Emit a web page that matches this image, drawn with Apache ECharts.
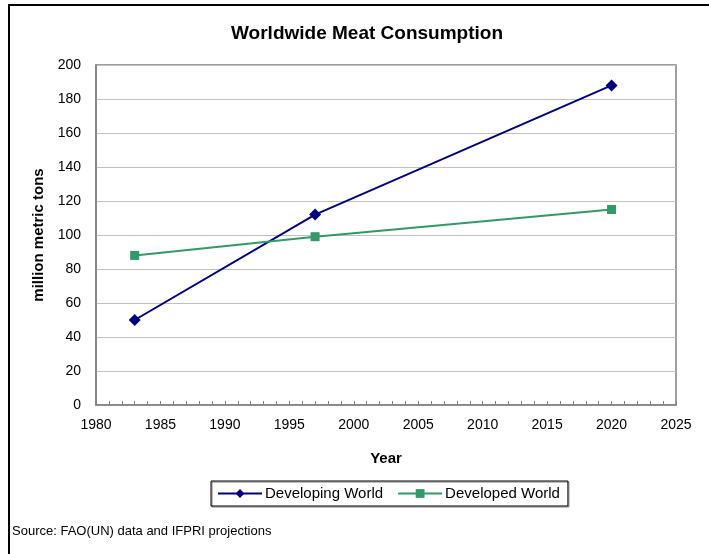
<!DOCTYPE html>
<html>
<head>
<meta charset="utf-8">
<script src="https://cdn.jsdelivr.net/npm/echarts@6/dist/echarts.min.js"></script>
<style>
  html, body { margin: 0; padding: 0; background: #fff; }
  #main { width: 709px; height: 554px; }
</style>
</head>
<body>
<div id="main"></div>
<script>
// data
var years = [1983, 1997, 2020];
var developing = [50, 112, 188];
var developed = [88, 99, 115];
var seriesNames = ["Developing World", "Developed World"];

function pairs(xs, ys) {
  return xs.map(function (x, i) { return [x, ys[i]]; });
}

var font = "Liberation Sans, Arial, sans-serif";
var myChart = echarts.init(document.getElementById("main"));

myChart.setOption({
  animation: false,
  backgroundColor: "#fff",
  title: {
    text: "Worldwide Meat Consumption",
    left: 362,
    top: 19,
    textAlign: "center",
    textStyle: { fontFamily: font, fontSize: 19, fontWeight: "bold", color: "#000" }
  },
  grid: { left: 96, top: 65, width: 580, height: 340, show: true, borderColor: "#808080", borderWidth: 1.5 },
  legend: {
    data: seriesNames,
    left: 211,
    top: 481,
    padding: [5, 8, 5, 6],
    itemGap: 14,
    itemWidth: 44,
    itemHeight: 11,
    borderColor: "#000",
    borderWidth: 1,
    shadowColor: "rgba(0,0,0,0.5)",
    shadowOffsetX: 1,
    shadowOffsetY: 1,
    textStyle: { fontFamily: font, fontSize: 15, color: "#000", padding: [0, 0, 0, -2] }
  },
  xAxis: {
    type: "value",
    min: 1980,
    max: 2025,
    interval: 5,
    name: "Year",
    nameLocation: "middle",
    nameGap: 46,
    nameTextStyle: { fontFamily: font, fontSize: 15, fontWeight: "bold", color: "#000" },
    axisLine: { lineStyle: { color: "#808080", width: 1.5 } },
    axisTick: { show: true, inside: true, length: 4, lineStyle: { color: "#808080" } },
    minorTick: { show: true, splitNumber: 5, length: 4, lineStyle: { color: "#808080" } },
    splitLine: { show: false },
    axisLabel: { fontFamily: font, fontSize: 14, color: "#000", margin: 13, formatter: function (v) { return String(v); } }
  },
  yAxis: {
    type: "value",
    min: 0,
    max: 200,
    interval: 20,
    name: "million metric tons",
    nameLocation: "middle",
    nameGap: 49,
    nameTextStyle: { fontFamily: font, fontSize: 15, fontWeight: "bold", color: "#000" },
    axisLine: { show: true, lineStyle: { color: "#808080", width: 1.5 } },
    axisTick: { show: false },
    splitLine: { lineStyle: { color: "#c0c0c0", width: 1 } },
    axisLabel: { fontFamily: font, fontSize: 14, color: "#000", margin: 15 }
  },
  series: [
    {
      name: seriesNames[0],
      type: "line",
      data: pairs(years, developing),
      symbol: "diamond",
      symbolSize: 12,
      color: "#000080",
      lineStyle: { color: "#000080", width: 2 },
      itemStyle: { color: "#000080" }
    },
    {
      name: seriesNames[1],
      type: "line",
      data: pairs(years, developed),
      symbol: "rect",
      symbolSize: 9,
      color: "#339966",
      lineStyle: { color: "#339966", width: 2 },
      itemStyle: { color: "#339966" }
    }
  ],
  graphic: [
    { type: "line", shape: { x1: 8, y1: 5, x2: 709, y2: 5 }, style: { stroke: "#000", lineWidth: 2 } },
    { type: "line", shape: { x1: 9, y1: 4, x2: 9, y2: 554 }, style: { stroke: "#000", lineWidth: 2 } },
    {
      type: "text",
      left: 12,
      top: 525,
      style: { text: "Source: FAO(UN) data and IFPRI projections", font: "13px " + font, fill: "#000" }
    }
  ]
});
</script>
</body>
</html>
